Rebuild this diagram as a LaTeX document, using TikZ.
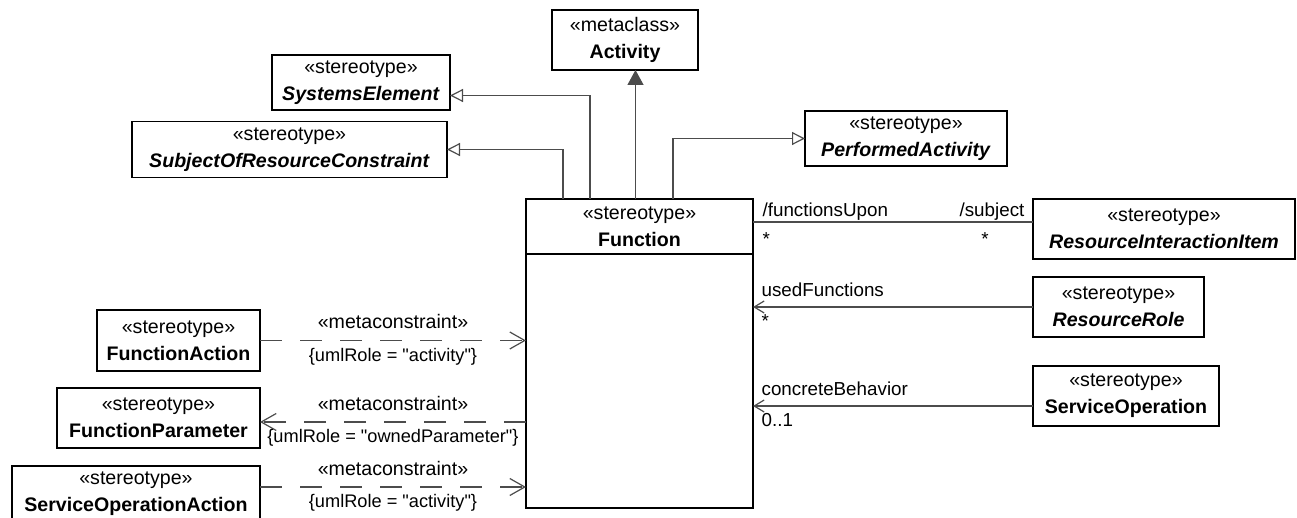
\documentclass[tikz,border=0pt]{standalone}
\usepackage{fontspec}
\setmainfont{Liberation Sans}
\usepackage{tikz}
\usetikzlibrary{arrows.meta, positioning, calc}
\tikzstyle{classbox} = [rectangle, draw=black, line width=0.65pt, outer sep=0pt, inner sep=0pt, align=center, minimum height=30pt, font=\fontsize{9.8}{13.5}\selectfont]
\tikzstyle{link} = [draw=black!70, line width=0.6pt]
\tikzstyle{genarrow} = [link, -{Triangle[open, length=6.5pt, width=6.5pt]}]
\tikzstyle{extarrow} = [link, -{Triangle[length=7.5pt, width=8pt]}]
\tikzstyle{navarrow} = [link, -{Straight Barb[length=5pt, width=6pt]}]
\tikzstyle{metadep} = [link, dash pattern=on 11pt off 9pt, -{Straight Barb[length=7.5pt, width=8.5pt]}]
\tikzstyle{rolelabel} = [inner sep=0pt, font=\fontsize{9.4}{11}\selectfont]
\tikzstyle{metalabel} = [inner sep=0.5pt, font=\fontsize{9.8}{11}\selectfont]
\tikzstyle{constraintlabel} = [inner sep=0.5pt, font=\fontsize{9.1}{11}\selectfont]
\newcommand*\umlrole[1]{\{umlRole = \textquotedbl#1\textquotedbl\}}

\begin{document}
\begin{tikzpicture}[x=0.5pt, y=-0.5pt]
    \clip (0,0) rectangle (1297,518);

    % === TOP: supertypes of Function ===
    \node (act) [classbox, minimum width=73pt] at (625,40) {«metaclass»\\\textbf{Activity}};
    \node (sysel) [classbox, minimum width=89pt, minimum height=27.5pt] at (361,82.5) {«stereotype»\\\textbf{\textit{SystemsElement}}};
    \node (subj) [classbox, minimum width=157.5pt, minimum height=28pt] at (289.5,149.5) {«stereotype»\\\textbf{\textit{SubjectOfResourceConstraint}}};
    \node (perf) [classbox, minimum width=101pt, minimum height=27.5pt] at (906,138.5) {«stereotype»\\\textbf{\textit{PerformedActivity}}};

    % === CENTRE: Function with its empty compartment ===
    \node (func) [classbox, minimum width=113.5pt, minimum height=27.5pt] at (639.5,226.5) {«stereotype»\\\textbf{Function}};
    \node (funcbody) [classbox, minimum width=113.5pt, minimum height=127pt, below=0pt of func] {};

    % === RIGHT column ===
    \node (rii) [classbox, minimum width=131pt] at (1164,229) {«stereotype»\\\textbf{\textit{ResourceInteractionItem}}};
    \node (rrole) [classbox, minimum width=85.5pt, below=9pt of rii.south west, anchor=north west] {«stereotype»\\\textbf{\textit{ResourceRole}}};
    \node (sop) [classbox, minimum width=93pt, below=14.5pt of rrole.south west, anchor=north west] {«stereotype»\\\textbf{ServiceOperation}};

    % === LEFT column ===
    \node (fact) [classbox, minimum width=81.5pt, minimum height=30.5pt] at (178.5,340.5) {«stereotype»\\\textbf{FunctionAction}};
    \node (fpar) [classbox, minimum width=101.5pt, below=8.5pt of fact.south east, anchor=north east] {«stereotype»\\\textbf{FunctionParameter}};
    \node (soact) [classbox, minimum width=124pt, minimum height=28pt, below=9pt of fpar.south east, anchor=north east] {«stereotype»\\\textbf{ServiceOperationAction}};

    % generalizations / extension
    \draw [extarrow] ([xshift=-2pt]func.north) -- ([xshift=-2pt]func.north |- act.south);
    \draw [genarrow] ([xshift=-24.75pt]func.north) |- ([yshift=-6.5pt]sysel.east);
    \draw [genarrow] ([xshift=-38.25pt]func.north) |- (subj.east);
    \draw [genarrow] ([xshift=16.75pt]func.north) |- (perf.west);

    % associations on the right
    \draw [link] ([yshift=2.25pt]func.east)
        node (funame) [rolelabel, anchor=base west, xshift=4.5pt, yshift=2.5pt] {/functionsUpon}
        node (fumult) [rolelabel, anchor=base west, xshift=4.5pt, yshift=-12pt] {*}
        -- ([yshift=2.25pt]func.east -| rii.west)
        node (subname) [rolelabel, anchor=base east, xshift=-4pt, yshift=2.5pt] {/subject}
        node (submult) [rolelabel, anchor=base, xshift=-24pt, yshift=-12pt] {*};
    \draw [navarrow] (rrole.west) -- (rrole.west -| funcbody.east)
        node (ufname) [rolelabel, anchor=base west, xshift=4pt, yshift=5pt] {usedFunctions}
        node (ufmult) [rolelabel, anchor=base west, xshift=4pt, yshift=-10.5pt] {*};
    \draw [navarrow] ([yshift=-5pt]sop.west) -- ([yshift=-5pt]sop.west -| funcbody.east)
        node (cbname) [rolelabel, anchor=base west, xshift=4pt, yshift=5pt] {concreteBehavior}
        node (cbmult) [rolelabel, anchor=base west, xshift=4pt, yshift=-10.5pt] {0..1};

    % metaconstraints on the left
    \draw [metadep] (fact.east) -- node (mc1) [metalabel, above=5pt] {«metaconstraint»} node (ur1) [constraintlabel, below=3pt] {\umlrole{activity}} (fact.east -| funcbody.west);
    \draw [metadep] ([yshift=-2pt]fpar.east -| funcbody.west) -- node (mc2) [metalabel, above=5pt] {«metaconstraint»} node (ur2) [constraintlabel, below=3pt] {\umlrole{ownedParameter}} ([yshift=-2pt]fpar.east);
    \draw [metadep] ([yshift=3.5pt]soact.east) -- node (mc3) [metalabel, above=5pt] {«metaconstraint»} node (ur3) [constraintlabel, below=3pt] {\umlrole{activity}} ([yshift=3.5pt]soact.east -| funcbody.west);

\end{tikzpicture}
\end{document}
